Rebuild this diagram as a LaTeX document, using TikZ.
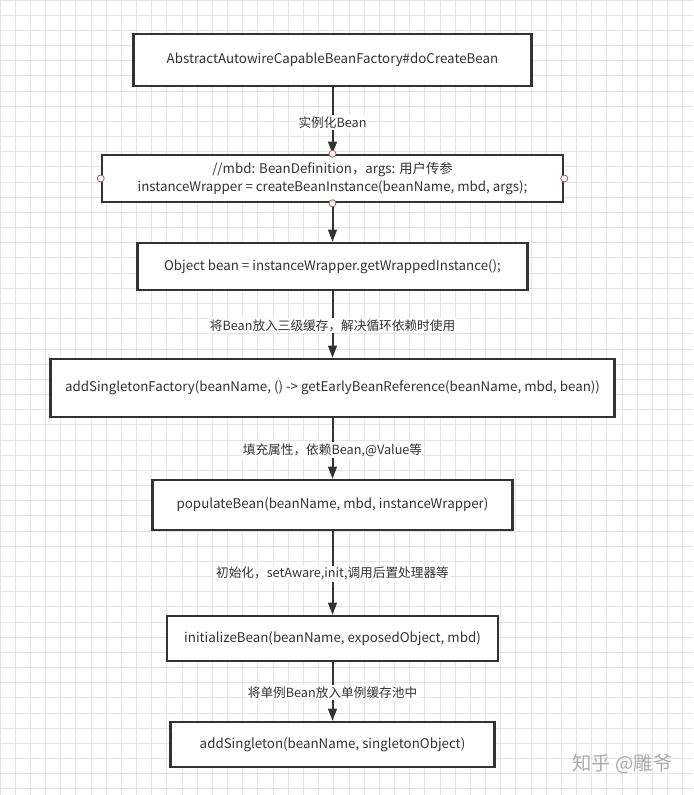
\documentclass[tikz,border=0pt]{standalone}
\usepackage{fontspec}
\setmainfont{Noto Sans CJK SC}
\usetikzlibrary{arrows.meta}
\definecolor{ink}{HTML}{333333}
\definecolor{gridgray}{HTML}{E4E4E4}
\definecolor{portred}{HTML}{B85450}
\tikzset{
  box/.style={draw=ink, line width=1.9pt, fill=white, text=ink, align=center, inner sep=0pt,
    font=\fontsize{10}{13.5}\selectfont},
  flow/.style={draw=ink, line width=1.5pt, -{Triangle[length=9pt,width=6.5pt]}},
  steplabel/.style={fill=white, text=ink, inner sep=1pt, font=\fontsize{9.5}{12}\selectfont},
}
\begin{document}
\begin{tikzpicture}[x=0.75pt,y=-0.75pt]
            \useasboundingbox (0,0) rectangle (693,795);
            \fill[white] (0,0) rectangle (693,795);
            \foreach \i in {0,...,45} \draw[gridgray, line width=0.6pt] (\i*15.17,0) -- (\i*15.17,795);
            \foreach \j in {0,...,52} \draw[gridgray, line width=0.6pt] (0,\j*15.17) -- (693,\j*15.17);

            \node[box, minimum width=298.5pt, minimum height=39pt] (create) at (332.5,60) {AbstractAutowireCapableBeanFactory\#doCreateBean};
            \node[box, minimum width=345.75pt, minimum height=35.25pt] (instance) at (332.5,178.5) {//mbd: BeanDefinition，args: 用户传参\\instanceWrapper = createBeanInstance(beanName, mbd, args);};
            \node[box, minimum width=292.5pt, minimum height=35.25pt] (wrapped) at (332.5,266.5) {Object bean = instanceWrapper.getWrappedInstance();};
            \node[box, minimum width=423pt, minimum height=43.5pt] (factory) at (332.5,388) {addSingletonFactory(beanName, () -> getEarlyBeanReference(beanName, mbd, bean))};
            \node[box, minimum width=270pt, minimum height=37.5pt] (populate) at (332.5,505) {populateBean(beanName, mbd, instanceWrapper)};
            \node[box, minimum width=248.25pt, minimum height=33.75pt] (init) at (332.5,638.5) {initializeBean(beanName, exposedObject, mbd)};
            \node[box, minimum width=243pt, minimum height=33.75pt] (singleton) at (332.5,744.5) {addSingleton(beanName, singletonObject)};

            \draw[flow] (create.south) -- node[steplabel, pos=0.53] (l1) {实例化Bean} (instance.north);
            \draw[flow] (instance.south) -- (wrapped.north);
            \draw[flow] (wrapped.south) -- node[steplabel, pos=0.52] (l2) {将Bean放入三级缓存，解决循环依赖时使用} (factory.north);
            \draw[flow] (factory.south) -- node[steplabel, pos=0.53] (l3) {填充属性，依赖Bean,@Value等} (populate.north);
            \draw[flow] (populate.south) -- node[steplabel, pos=0.51] (l4) {初始化，setAware,init,调用后置处理器等} (init.north);
            \draw[flow] (init.south) -- node[steplabel, pos=0.52] (l5) {将单例Bean放入单例缓存池中} (singleton.north);

            \foreach \a in {north,south,east,west}
                \draw[portred, fill=white, line width=0.6pt] (instance.\a) circle (3.5);

            \node[text=gray!65, font=\fontsize{14.5}{16}\selectfont] (mark) at (622.5,764) {知乎 @雕爷};
        \end{tikzpicture}
\end{document}
